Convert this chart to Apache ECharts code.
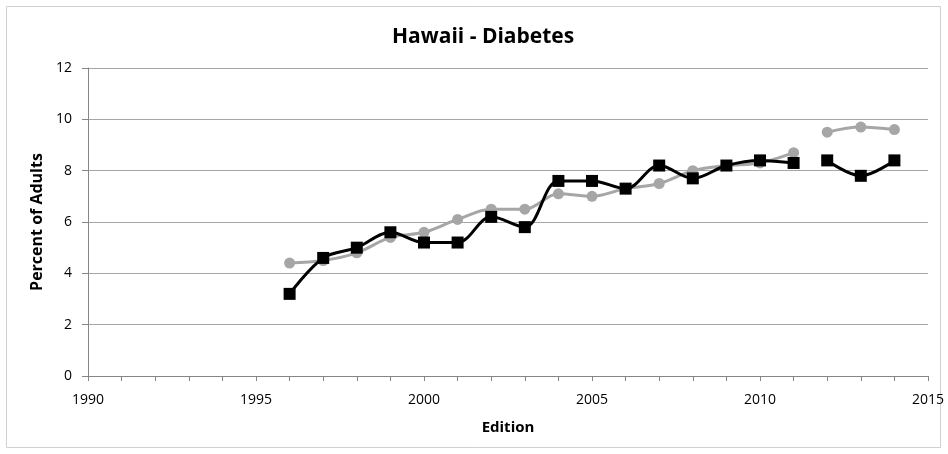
<!DOCTYPE html>
<html><head><meta charset="utf-8">
<script src="https://cdn.jsdelivr.net/npm/echarts@6/dist/echarts.min.js"></script>
<style>html,body{margin:0;padding:0;background:#fff}#c{width:948px;height:454px}</style>
</head><body><div id="c"></div>
<script>
const years1 = [1996,1997,1998,1999,2000,2001,2002,2003,2004,2005,2006,2007,2008,2009,2010,2011];
const years2 = [2012,2013,2014];
const black1 = [3.2,4.6,5.0,5.6,5.2,5.2,6.2,5.8,7.6,7.6,7.3,8.2,7.7,8.2,8.4,8.3];
const black2 = [8.4,7.8,8.4];
const gray1 = [4.4,4.5,4.8,5.4,5.6,6.1,6.5,6.5,7.1,7.0,7.3,7.5,8.0,8.2,8.3,8.7];
const gray2 = [9.5,9.7,9.6];
const pair = (xs, ys) => xs.map((x, i) => [x, ys[i]]);
const font = "'Open Sans', 'Liberation Sans', sans-serif";
function line(data, color, symbol, size) {
  return {type:'line', data, smooth:0.35, symbol, symbolSize:size, showSymbol:true,
    lineStyle:{color, width:3}, itemStyle:{color, borderWidth:0}, z: color==='#000000'?3:2};
}
const chart = echarts.init(document.getElementById('c'));
chart.setOption({
  animation:false,
  backgroundColor:'#ffffff',
  graphic:[{type:'rect', shape:{x:6.5,y:6.5,width:934,height:441}, style:{fill:'none', stroke:'#d0d0d0', lineWidth:1}, silent:true}],
  title:{text:'Hawaii - Diabetes', left:387, top:22, textStyle:{fontFamily:font, fontWeight:'bold', fontSize:21, color:'#000'}},
  grid:{left:88, right:20, top:68, bottom:78},
  xAxis:{type:'value', min:1990, max:2015, interval:1, name:'Edition', nameLocation:'middle', nameGap:44,
    nameTextStyle:{fontFamily:font, fontWeight:'bold', fontSize:15, color:'#000'},
    axisLine:{show:true, lineStyle:{color:'#868686', width:1}},
    axisTick:{show:true, inside:false, length:5, lineStyle:{color:'#868686'}},
    splitLine:{show:false},
    axisLabel:{fontFamily:font, fontSize:14, color:'#000', margin:17, formatter: v => (v % 5 === 0 ? String(v) : '')}},
  yAxis:{type:'value', min:0, max:12, interval:2, name:'Percent of Adults', nameLocation:'middle', nameGap:42,
    nameTextStyle:{fontFamily:font, fontWeight:'bold', fontSize:16, color:'#000'},
    axisLine:{show:true, lineStyle:{color:'#868686', width:1}},
    axisTick:{show:true, length:6, lineStyle:{color:'#868686'}},
    splitLine:{show:true, lineStyle:{color:'#a6a6a6', width:1}},
    axisLabel:{fontFamily:font, fontSize:14, color:'#000', margin:16}},
  series:[
    line(pair(years1, gray1), '#a6a6a6', 'circle', 11),
    line(pair(years2, gray2), '#a6a6a6', 'circle', 11),
    line(pair(years1, black1), '#000000', 'rect', 12),
    line(pair(years2, black2), '#000000', 'rect', 12)
  ]
});
</script></body></html>
